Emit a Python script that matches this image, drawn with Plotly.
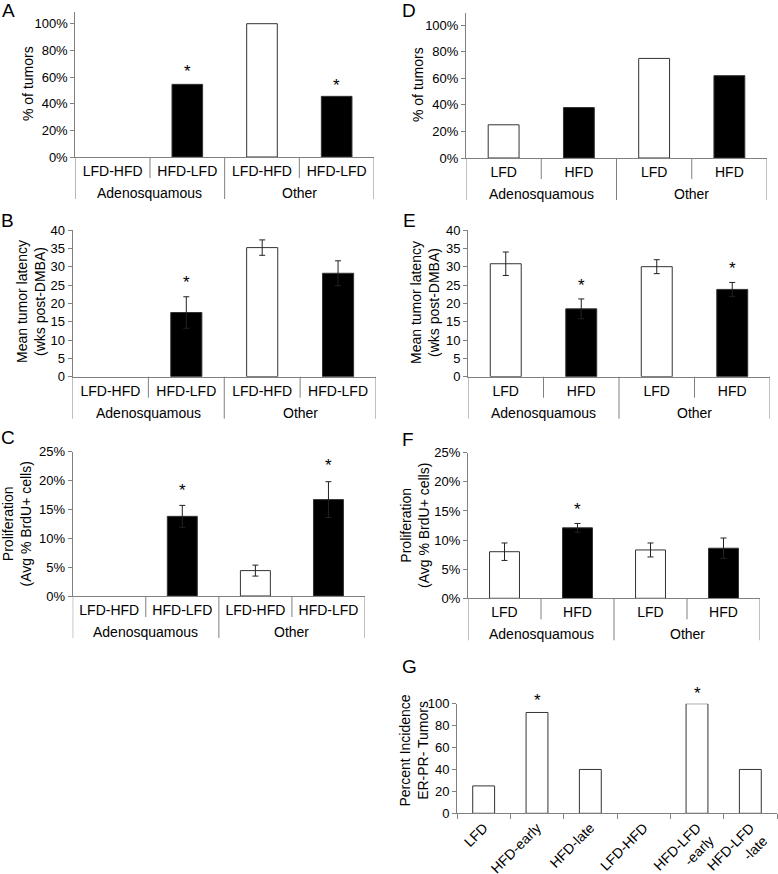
import plotly.graph_objects as go

W, H = 778, 874

# ---------------- data ----------------
group_names = ["Adenosquamous", "Other"]
switch_cats = ["LFD-HFD", "HFD-LFD", "LFD-HFD", "HFD-LFD"]
diet_cats = ["LFD", "HFD", "LFD", "HFD"]
bar_fill = ["white", "black", "white", "black"]

a_pct = [0.0, 0.545, 1.0, 0.455]
a_star = [None, 0.64, None, 0.54]

b_latency = [None, 17.5, 35.2, 28.2]
b_err = [0, 4.3, 2.1, 3.4]
b_star = [None, 25.6, None, None]

c_prolif = [None, 0.138, 0.044, 0.167]
c_err = [0, 0.019, 0.0095, 0.031]
c_star = [None, 0.182, None, 0.226]

d_pct = [0.25, 0.38, 0.75, 0.62]

e_latency = [30.8, 18.5, 30.0, 23.8]
e_err = [3.2, 2.7, 1.9, 1.9]
e_star = [None, 25.0, None, 29.5]

f_prolif = [0.080, 0.121, 0.083, 0.086]
f_err = [0.015, 0.0075, 0.012, 0.0175]
f_star = [None, 0.153, None, None]

g_cats = ["LFD", "HFD-early", "HFD-late", "LFD-HFD", "HFD-LFD<br>-early", "HFD-LFD<br>-late"]
g_pct = [25, 92, 40, 0, 100, 40]
g_star = [None, 102.5, None, None, 109.5, None]
g_range = [0, 100]

titles = {
    "A": "% of tumors",
    "B": "Mean tumor latency<br>(wks post-DMBA)",
    "C": "Proliferation<br>(Avg % BrdU+ cells)",
    "D": "% of tumors",
    "E": "Mean tumor latency<br>(wks post-DMBA)",
    "F": "Proliferation<br>(Avg % BrdU+ cells)",
    "G": "Percent Incidence<br>ER-PR- Tumors",
}

# ---------------- layout helpers ----------------
AX = "#808080"
EDGE = "#333333"
FONT = "Liberation Sans, Arial, sans-serif"

def xd(x0, x1):
    return [x0 / W, x1 / W]

def yd(top, bottom):
    return [1 - bottom / H, 1 - top / H]

panels = {
    "A": ((75.3, 374), (11.7, 157)),
    "B": ((72.5, 376), (230, 376.7)),
    "C": ((72.7, 365), (451.7, 596)),
    "D": ((466, 767), (13, 158)),
    "E": ((468, 770), (230, 376.7)),
    "F": ((468, 760), (452.7, 598.3)),
    "G": ((457, 777), (703.7, 813.3)),
}
# centre of the (rotated) y-axis title, px
title_pos = {"A": (28, 84), "B": (31, 302), "C": (16.5, 524), "D": (418, 85),
             "E": (425, 303), "F": (415, 526), "G": (413.5, 750)}

fig = go.Figure()
layout = dict(
    width=W, height=H,
    margin=dict(l=0, r=0, t=0, b=0, autoexpand=False),
    paper_bgcolor="white", plot_bgcolor="white",
    showlegend=False,
    font=dict(family=FONT, size=14, color="black"),
)
shapes = []
annos = []

def ids(i):
    return ("x" if i == 1 else f"x{i}"), ("y" if i == 1 else f"y{i}")

def add_bars(i, xs, vals, fills, err=None):
    xa, ya = ids(i)
    widths = [0 if (v is None or v == 0) else 1 for v in vals]
    bar = go.Bar(
        x=xs, y=vals, width=0.41,
        marker=dict(color=fills, line=dict(color=EDGE, width=widths)),
        xaxis=xa, yaxis=ya, hoverinfo="skip",
    )
    if err is not None:
        bar.error_y = dict(type="data", array=err, visible=True,
                           color="#222222", thickness=1, width=3)
    fig.add_trace(bar)

def add_stars(i, xs, stars, rng=None):
    xa, ya = ids(i)
    for x, s in zip(xs, stars):
        if s is None:
            continue
        if rng is None:
            yv, yr = s, ya
        else:  # may lie above the axis range -> place relative to the domain
            yv, yr = (s - rng[0]) / (rng[1] - rng[0]), f"{ya} domain"
        annos.append(dict(text="*", x=x, y=yv, xref=xa, yref=yr, showarrow=False,
                          xanchor="center", yanchor="middle",
                          font=dict(size=17, color="black")))

def yaxis(dom, anchor, rng, dtick, fmt):
    return dict(
        domain=dom, anchor=anchor, range=rng, dtick=dtick, tick0=0, automargin=False,
        tickformat=fmt, showline=True, linecolor=AX, linewidth=1,
        ticks="outside", ticklen=4, tickcolor=AX, showgrid=False, zeroline=False,
        tickfont=dict(size=13),
    )

specs = {
    "A": (switch_cats, a_pct, None, a_star, [0, 1.09], 0.2, ".0%"),
    "B": (switch_cats, b_latency, b_err, b_star, [0, 40], 5, ""),
    "C": (switch_cats, c_prolif, c_err, c_star, [0, 0.25], 0.05, ".0%"),
    "D": (diet_cats, d_pct, None, None, [0, 1.092], 0.2, ".0%"),
    "E": (diet_cats, e_latency, e_err, e_star, [0, 40], 5, ""),
    "F": (diet_cats, f_prolif, f_err, f_star, [0, 0.25], 0.05, ".0%"),
}

order = ["A", "B", "C", "D", "E", "F", "G"]
for i, name in enumerate(order, start=1):
    (x0, x1), (t, b) = panels[name]
    xk = "xaxis" if i == 1 else f"xaxis{i}"
    yk = "yaxis" if i == 1 else f"yaxis{i}"
    xa, ya = ids(i)
    ph = b - t
    tx, ty = title_pos[name]
    annos.append(dict(text=titles[name], x=tx / W, y=1 - ty / H, xref="paper", yref="paper",
                      textangle=-90, xanchor="center", yanchor="middle", showarrow=False,
                      font=dict(size=14, color="black")))
    if name == "G":
        add_bars(i, g_cats, g_pct, ["white"] * len(g_cats), None)
        add_stars(i, g_cats, g_star, g_range)
        layout[xk] = dict(
            domain=xd(x0, x1), anchor=ya, type="category", automargin=False,
            showline=True, linecolor=AX, ticks="outside", tickson="boundaries",
            ticklen=5, tickcolor=AX, tickangle=-45, tickfont=dict(size=14),
            showgrid=False, zeroline=False,
        )
        layout[yk] = yaxis(yd(t, b), xa, g_range, 20, "")
        continue

    cats, vals, err, stars, rng, dt, fmt = specs[name]
    pos = list(range(len(cats)))
    add_bars(i, pos, vals, bar_fill, err)
    if stars is not None:
        add_stars(i, pos, stars)
    layout[xk] = dict(
        domain=xd(x0, x1), anchor=ya, type="linear", automargin=False,
        range=[-0.5, len(cats) - 0.5], tickmode="array", tickvals=pos, ticktext=cats,
        showline=True, linecolor=AX, linewidth=1, ticks="", ticklabelstandoff=1,
        tickfont=dict(size=14), showgrid=False, zeroline=False,
    )
    layout[yk] = yaxis(yd(t, b), xa, rng, dt, fmt)
    n_per = len(cats) // len(group_names)
    for gi, gname in enumerate(group_names):
        annos.append(dict(text=gname, x=gi * n_per + (n_per - 1) / 2, y=-36 / ph,
                          xref=xa, yref=f"{ya} domain", showarrow=False,
                          xanchor="center", yanchor="middle", font=dict(size=14)))
    for k in range(len(cats) + 1):
        xb = k - 0.5
        long_ = (k % n_per == 0)
        shapes.append(dict(type="line", xref=xa, yref=f"{ya} domain",
                           x0=xb, x1=xb, y0=0, y1=-(42 if long_ else 21) / ph,
                           line=dict(color=AX, width=1)))

letters = {"A": (8.5, 10.5), "B": (8, 220), "C": (8, 437), "D": (408.5, 10.5),
           "E": (409, 220.5), "F": (408, 439), "G": (409, 666)}
for k, (lx, ly) in letters.items():
    annos.append(dict(text=k, x=lx / W, y=1 - ly / H, xref="paper", yref="paper",
                      xanchor="center", yanchor="middle", showarrow=False,
                      font=dict(size=19, color="black")))
layout["annotations"] = annos
layout["shapes"] = shapes

fig.update_layout(**layout)
fig.write_html("out.html", config={"displayModeBar": False},
               post_script="document.body.style.margin='0';document.body.style.overflow='hidden';")
